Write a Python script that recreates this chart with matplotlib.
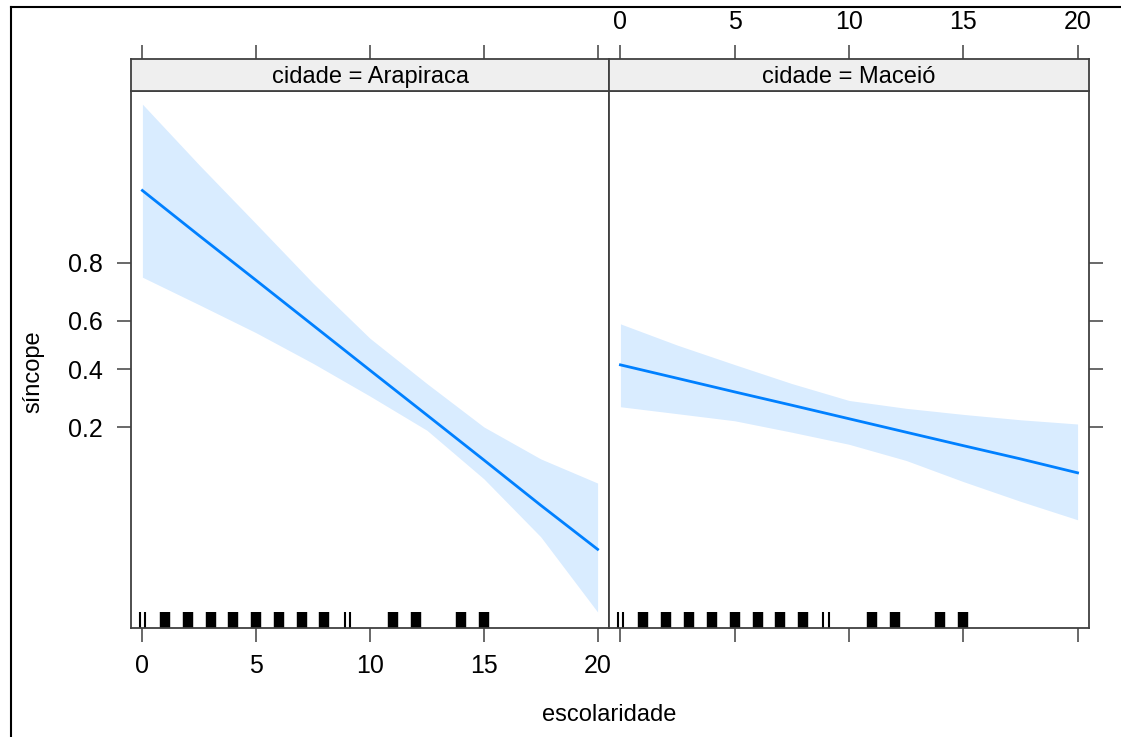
import numpy as np
import matplotlib
matplotlib.use("Agg")
import matplotlib.pyplot as plt
from matplotlib.ticker import NullLocator

plt.rcParams['font.family'] = ['Liberation Sans', 'DejaVu Sans']

# Dados (escala de probabilidade)
escolaridade = [0, 2.5, 5, 7.5, 10, 12.5, 15, 17.5, 20]

arapiraca_fit = [0.931, 0.863, 0.748, 0.582, 0.395, 0.235, 0.126, 0.063, 0.031]
arapiraca_sup = [0.983, 0.954, 0.885, 0.739, 0.528, 0.343, 0.201, 0.128, 0.089]
arapiraca_inf = [0.758, 0.663, 0.551, 0.423, 0.297, 0.192, 0.095, 0.038, 0.011]

maceio_fit = [0.417, 0.363, 0.312, 0.266, 0.224, 0.187, 0.155, 0.128, 0.104]
maceio_sup = [0.588, 0.499, 0.418, 0.343, 0.282, 0.256, 0.237, 0.221, 0.209]
maceio_inf = [0.261, 0.239, 0.218, 0.187, 0.158, 0.125, 0.091, 0.067, 0.050]

# Rug: valores observados de escolaridade
rug_cheio = [1, 2, 3, 4, 5, 6, 7, 8, 11, 12, 14, 15]
rug_fino = [0, 9]

paineis = ["cidade = Arapiraca", "cidade = Maceió"]
yticks = [0.2, 0.4, 0.6, 0.8]
xticks = [0, 5, 10, 15, 20]

W, H = 1121, 737
AZUL = "#0080ff"
CINZA = "#404040"
FS_TICK = 18
FS_TXT = 17


def caixa(px_esq, px_dir, px_top, px_base):
    return [px_esq / W, 1 - px_base / H, (px_dir - px_esq) / W, (px_base - px_top) / H]


fig = plt.figure(figsize=(W / 100, H / 100), dpi=100)

dados = [
    (arapiraca_fit, arapiraca_sup, arapiraca_inf),
    (maceio_fit, maceio_sup, maceio_inf),
]
limites_x = [(131, 609), (609, 1089)]

for i, ((fit, sup, inf), (xe, xd)) in enumerate(zip(dados, limites_x)):
    ax = fig.add_axes(caixa(xe, xd, 91, 628))
    ax.set_yscale("logit")
    ax.set_ylim(0.00843, 0.98632)
    ax.set_xlim(-0.5, 20.5)

    ax.fill_between(escolaridade, inf, sup, color=AZUL, alpha=0.15, lw=0)
    ax.plot(escolaridade, fit, color=AZUL, lw=2.0)

    # rug
    tr = ax.get_xaxis_transform()
    ax.vlines(rug_cheio, 0, 0.03, transform=tr, color="black", lw=7.5)
    for v in rug_fino:
        ax.vlines([v - 0.12, v + 0.12], 0, 0.03, transform=tr, color="black", lw=1.5)

    ax.set_yticks(yticks)
    ax.set_yticklabels([str(t) for t in yticks])
    ax.yaxis.set_minor_locator(NullLocator())
    ax.set_xticks(xticks)
    ax.set_xticklabels([str(t) for t in xticks])

    for s in ax.spines.values():
        s.set_color(CINZA)
        s.set_linewidth(1.3)

    ax.tick_params(direction="out", length=10, width=1.1, color=CINZA, labelsize=FS_TICK)
    ax.tick_params(axis="x", pad=9, top=False)
    if i == 0:
        ax.tick_params(axis="y", left=True, right=False, labelleft=True, pad=10)
        ax.tick_params(axis="x", labelbottom=True)
    else:
        ax.tick_params(axis="y", left=False, right=True, labelleft=False, labelright=False)
        ax.tick_params(axis="x", labelbottom=False)

    # faixa do painel (strip)
    st = fig.add_axes(caixa(xe, xd, 59, 91))
    st.set_facecolor("#efefef")
    st.set_xlim(-0.5, 20.5)
    st.set_ylim(0, 1)
    st.set_yticks([])
    st.set_xticks(xticks)
    st.set_xticklabels([str(t) for t in xticks])
    st.xaxis.set_ticks_position("top")
    st.tick_params(axis="x", direction="out", length=10, width=1.1, color=CINZA,
                   labelsize=FS_TICK, pad=8, labeltop=(i == 1), labelbottom=False, bottom=False)
    for s in st.spines.values():
        s.set_color(CINZA)
        s.set_linewidth(1.3)
    st.text(0.5, 0.45, paineis[i], transform=st.transAxes, ha="center", va="center", fontsize=FS_TXT)

fig.text(609 / W, 1 - 715 / H, "escolaridade", ha="center", va="center", fontsize=FS_TXT)
fig.text(33 / W, 1 - 372 / H, "síncope", ha="center", va="center", rotation=90, fontsize=FS_TXT)

# moldura do print
fig.add_artist(plt.Line2D([10.5 / W, 10.5 / W], [0, 1 - 7 / H], color="black", lw=1.5))
fig.add_artist(plt.Line2D([10.5 / W, 1], [1 - 7 / H, 1 - 7 / H], color="black", lw=1.5))

fig.savefig("out.png", dpi=100)
